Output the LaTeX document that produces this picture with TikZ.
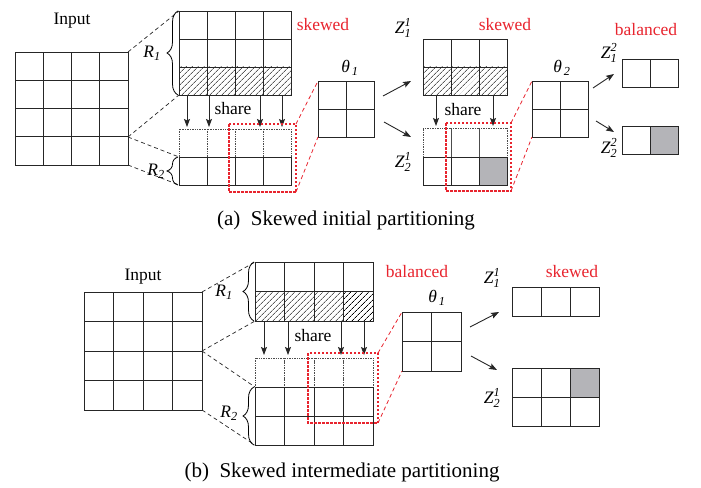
\documentclass[tikz,border=0pt]{standalone}
\usepackage{fontspec}
\usepackage{amsmath}
\setmainfont{Liberation Serif}
\usetikzlibrary{arrows.meta,patterns.meta,decorations.pathreplacing}
\definecolor{redc}{RGB}{232,36,46}
\definecolor{greyc}{RGB}{180,180,184}
\newcommand\cellrow[6]{\foreach \i in {1,...,#3}{\draw[#6] ({#1+(\i-1)*#4},{#2}) rectangle ++(#4,#5);}}
\tikzset{
  cell/.style={draw=black!85, line width=0.8pt},
  hatch/.style={cell, pattern={Lines[angle=45,distance=4pt,line width=0.65pt]}},
  greycell/.style={cell, fill=greyc},
  dotcell/.style={draw=black!70, line width=0.7pt, densely dotted},
  lead/.style={draw=black!85, line width=0.7pt, dash pattern=on 4pt off 3pt},
  redlead/.style={draw=redc, line width=0.8pt, dash pattern=on 4pt off 3pt},
  redbox/.style={draw=redc, line width=1.2pt, dash pattern=on 2.5pt off 1.5pt},
  arr/.style={-{Stealth[length=8pt,width=6pt,inset=1.5pt]}, line width=0.9pt, draw=black!85},
  bracer/.style={decorate, decoration={brace, amplitude=11pt}, line width=0.8pt},
  lbl/.style={font=\fontsize{17.5}{20}\selectfont, inner sep=0pt},
  redlbl/.style={lbl, text=redc},
  captxt/.style={font=\fontsize{21}{24}\selectfont, inner sep=0pt}
}
\begin{document}
\begin{tikzpicture}[x=1pt,y=-1pt]
\useasboundingbox (0,0) rectangle (701,487);
% ================= (a) =================
\node[lbl] (inputA) at (72,21) {Input};
\foreach \r in {0,...,3}{\cellrow{15}{52+\r*28.25}{4}{28.25}{28.25}{cell}}
\coordinate (inA1) at (128,52);
\coordinate (inA2) at (128,137);
\coordinate (inA3) at (128,165);
% R1
\cellrow{179}{11}{4}{28}{28}{cell}
\cellrow{179}{39}{4}{28}{28}{cell}
\cellrow{179}{67}{4}{28}{28}{hatch}
\coordinate (r1At) at (179,11);
\coordinate (r1Ab) at (179,95);
% R2
\cellrow{179}{129}{4}{28}{28}{dotcell}
\cellrow{179}{157}{4}{28}{28}{cell}
\coordinate (r2At) at (179,157);
\coordinate (r2Ab) at (179,185);
\draw[lead] (inA1) -- (r1At);
\draw[lead] (inA2) -- (r1Ab);
\draw[lead] (inA2) -- (r2At);
\draw[lead] (inA3) -- (r2Ab);
\draw[bracer] (178,95) -- (178,11);
\draw[bracer] (178,185) -- (178,157);
\node[lbl] (r1Alab) at (152,53) {$\textit{R}_{\textit{1}}$};
\node[lbl] (r2Alab) at (156,171) {$\textit{R}_{\textit{2}}$};
% share arrows
\foreach \x [count=\k] in {187,209,260,282}{
  \coordinate (saS\k) at (\x,95);
  \coordinate (saE\k) at (\x,127);
  \draw[arr] (saS\k) -- (saE\k);
}
\node[lbl] (shareA) at (233,109) {share};
\node[redlbl] (skewA) at (323,25) {skewed};
% red box
\coordinate (bxA1) at (229,124);
\coordinate (bxA2) at (296,192);
\coordinate (bxA3) at (296,124);
\draw[redbox] (bxA1) rectangle (bxA2);
% theta1
\cellrow{318}{81}{2}{28}{28}{cell}
\cellrow{318}{109}{2}{28}{28}{cell}
\coordinate (thA1) at (318,81);
\coordinate (thA2) at (318,137);
\draw[redlead] (bxA3) -- (thA1);
\draw[redlead] (bxA2) -- (thA2);
\node[lbl] (thAlab) at (350,68) {$\textit{θ}_{\,\textit{1}}$};
\coordinate (aA1s) at (383,96);
\coordinate (aA1e) at (411,81);
\coordinate (aA2s) at (384,122);
\coordinate (aA2e) at (411,137);
\draw[arr] (aA1s) -- (aA1e);
\draw[arr] (aA2s) -- (aA2e);
% z11
\node[lbl] (z11Alab) at (403,28) {$\textit{Z}^{\textit{1}}_{\textit{1}}$};
\node[redlbl] (skewA2) at (505,25) {skewed};
\cellrow{423}{39}{3}{28}{28}{cell}
\cellrow{423}{67}{3}{28}{28}{hatch}
\foreach \x [count=\k] in {436,493}{
  \coordinate (sbS\k) at (\x,95);
  \coordinate (sbE\k) at (\x,126);
  \draw[arr] (sbS\k) -- (sbE\k);
}
\node[lbl] (shareA2) at (463,110) {share};
% z21
\cellrow{423}{128.5}{3}{28}{28.5}{dotcell}
\draw[cell] (423,157) rectangle ++(28,28);
\draw[cell] (451,157) rectangle ++(28,28);
\draw[greycell] (479,157) rectangle ++(28,28);
\node[lbl] (z21Alab) at (403,162) {$\textit{Z}^{\textit{1}}_{\textit{2}}$};
\coordinate (bxB1) at (446,123);
\coordinate (bxB2) at (511,191);
\coordinate (bxB3) at (511,123);
\draw[redbox] (bxB1) rectangle (bxB2);
% theta2
\cellrow{532}{81}{2}{28}{28}{cell}
\cellrow{532}{109}{2}{28}{28}{cell}
\coordinate (thB1) at (532,81);
\coordinate (thB2) at (532,137);
\draw[redlead] (bxB3) -- (thB1);
\draw[redlead] (bxB2) -- (thB2);
\node[lbl] (thBlab) at (562,68) {$\textit{θ}_{\,\textit{2}}$};
\coordinate (aB1s) at (593,88);
\coordinate (aB1e) at (614,74);
\coordinate (aB2s) at (596,121);
\coordinate (aB2e) at (614,132);
\draw[arr] (aB1s) -- (aB1e);
\draw[arr] (aB2s) -- (aB2e);
\node[redlbl] (balA) at (646,30) {balanced};
\node[lbl] (z12lab) at (609,53) {$\textit{Z}^{\textit{2}}_{\textit{1}}$};
\node[lbl] (z22lab) at (609,148) {$\textit{Z}^{\textit{2}}_{\textit{2}}$};
\cellrow{622}{59}{2}{28}{28}{cell}
\draw[cell] (622,126) rectangle ++(28,28);
\draw[greycell] (650,126) rectangle ++(28,28);
\node[captxt] (capA) at (346,220) {(a)\enspace Skewed initial partitioning};
% ================= (b) =================
\node[lbl] (inputB) at (143,277) {Input};
\foreach \r in {0,...,3}{\cellrow{84}{292+\r*29.5}{4}{29.5}{29.5}{cell}}
\coordinate (inB1) at (202,292);
\coordinate (inB2) at (202,351);
\coordinate (inB3) at (202,410);
\cellrow{255}{262}{4}{29.5}{29.5}{cell}
\cellrow{255}{291.5}{4}{29.5}{29.5}{hatch}
\coordinate (r1Bt) at (255,262);
\coordinate (r1Bb) at (255,321);
\cellrow{255}{358}{4}{29.5}{29}{dotcell}
\cellrow{255}{387}{4}{29.5}{29}{cell}
\cellrow{255}{416}{4}{29.5}{29}{cell}
\coordinate (r2Bt) at (255,387);
\coordinate (r2Bb) at (255,445);
\draw[lead] (inB1) -- (r1Bt);
\draw[lead] (inB2) -- (r1Bb);
\draw[lead] (inB2) -- (r2Bt);
\draw[lead] (inB3) -- (r2Bb);
\draw[bracer] (254,321) -- (254,262);
\draw[bracer] (254,445) -- (254,387);
\node[lbl] (r1Blab) at (224,292) {$\textit{R}_{\textit{1}}$};
\node[lbl] (r2Blab) at (229,413) {$\textit{R}_{\textit{2}}$};
\foreach \x [count=\k] in {264,288,341,364}{
  \coordinate (scS\k) at (\x,321);
  \coordinate (scE\k) at (\x,355);
  \draw[arr] (scS\k) -- (scE\k);
}
\node[lbl] (shareB) at (313,336) {share};
\node[redlbl] (balB) at (417,272) {balanced};
\coordinate (bxC1) at (308,353);
\coordinate (bxC2) at (378,423);
\coordinate (bxC3) at (378,353);
\draw[redbox] (bxC1) rectangle (bxC2);
\cellrow{402}{312}{2}{29.5}{29.5}{cell}
\cellrow{402}{341.5}{2}{29.5}{29.5}{cell}
\coordinate (thC1) at (402,312);
\coordinate (thC2) at (402,371);
\draw[redlead] (bxC3) -- (thC1);
\draw[redlead] (bxC2) -- (thC2);
\node[lbl] (thClab) at (437,298) {$\textit{θ}_{\,\textit{1}}$};
\coordinate (aC1s) at (470,327);
\coordinate (aC1e) at (499,312);
\coordinate (aC2s) at (471,356);
\coordinate (aC2e) at (497,370);
\draw[arr] (aC1s) -- (aC1e);
\draw[arr] (aC2s) -- (aC2e);
\node[lbl] (z11Blab) at (492,278) {$\textit{Z}^{\textit{1}}_{\textit{1}}$};
\node[redlbl] (skewB) at (572,272) {skewed};
\cellrow{512}{287}{3}{29}{29}{cell}
\draw[cell] (512,368) rectangle ++(29,29);
\draw[cell] (541,368) rectangle ++(29,29);
\draw[greycell] (570,368) rectangle ++(29,29);
\cellrow{512}{397}{3}{29}{29}{cell}
\node[lbl] (z21Blab) at (492,398) {$\textit{Z}^{\textit{1}}_{\textit{2}}$};
\node[captxt] (capB) at (342,472) {(b)\enspace Skewed intermediate partitioning};
\end{tikzpicture}
\end{document}
